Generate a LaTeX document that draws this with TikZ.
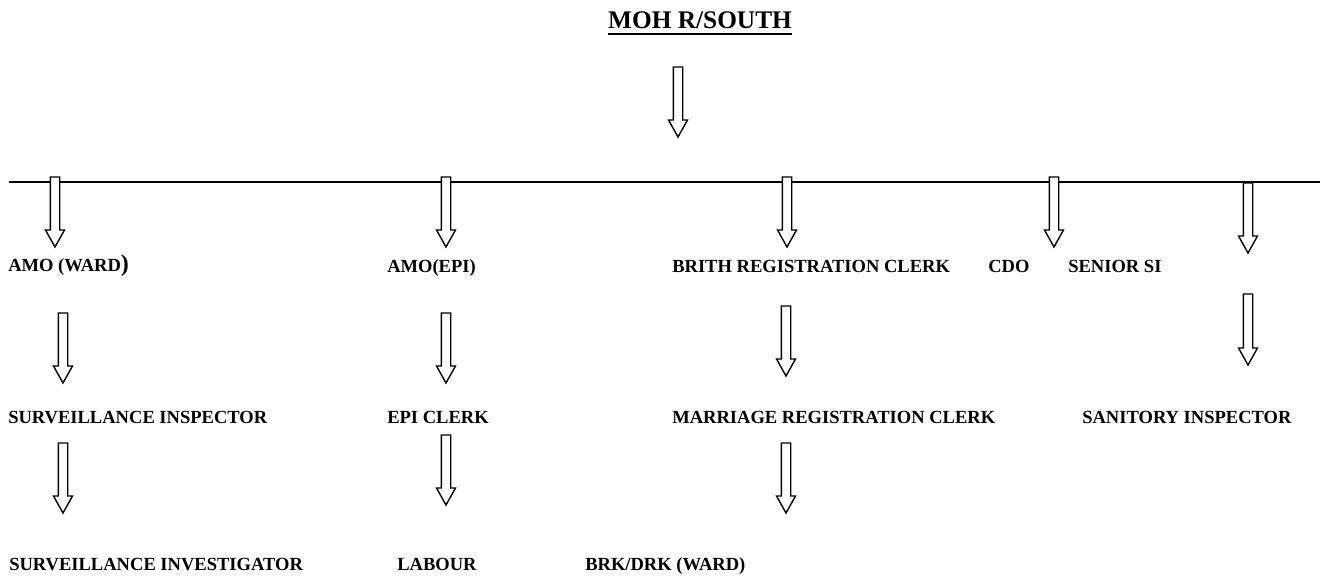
\documentclass[tikz,border=0pt]{standalone}
\usepackage{fontspec}
\setmainfont{Liberation Serif}
\usepackage{tikz}
\usetikzlibrary{calc}
\tikzset{
  org-title/.style={anchor=base, inner sep=0pt, font=\fontsize{19}{22}\selectfont\bfseries},
  org-label/.style={anchor=base west, inner sep=0pt, font=\fontsize{13.9}{16}\selectfont\bfseries},
  org-bus/.style={line width=1.5pt},
  org-arrow/.style={draw=black, fill=white, line width=1.05pt, line join=miter}
}
% hollow block arrow pointing down: shaft top (#1), tip (#2)
\newcommand{\blockdown}[2]{%
  \draw[org-arrow] ($(#1)+(-4.7,0)$) -- ($(#2)+(-4.7,-17)$) -- ($(#2)+(-9.5,-17)$)
    -- (#2) -- ($(#2)+(9.5,-17)$) -- ($(#2)+(4.7,-17)$) -- ($(#1)+(4.7,0)$) -- cycle;
}

\begin{document}
\begin{tikzpicture}[x=0.75pt, y=-0.75pt]
    \useasboundingbox (0,0) rectangle (1325,576);
    % Title
    \node[org-title] (moh) at (700,28) {MOH R/SOUTH};
    \draw[org-bus] ($(moh.base west)+(0,6)$) -- ($(moh.base east)+(0,6)$);
    \coordinate (top-t) at (678,67);
    \coordinate (top-h) at (678,137);
    \blockdown{top-t}{top-h}

    % Bus line
    \coordinate (busL) at (9,182);
    \coordinate (busR) at (1320,182);
    \draw[org-bus] (busL) -- (busR);

    % Arrows off the bus
    \coordinate (ward-t) at (55,177);   \coordinate (ward-h) at (55,247);
    \coordinate (epi-t) at (446,177);   \coordinate (epi-h) at (446,247);
    \coordinate (brith-t) at (787,177); \coordinate (brith-h) at (787,247);
    \coordinate (cdo-t) at (1054,177);  \coordinate (cdo-h) at (1054,247);
    \coordinate (si-t) at (1248,183);   \coordinate (si-h) at (1248,253);
    \blockdown{ward-t}{ward-h}
    \blockdown{epi-t}{epi-h}
    \blockdown{brith-t}{brith-h}
    \blockdown{cdo-t}{cdo-h}
    \blockdown{si-t}{si-h}

    % First row
    \node[org-label] (amoward) at (8,271) {AMO (WARD{\fontsize{18}{20}\selectfont)}};
    \node[org-label] (amoepi) at (387,272) {AMO(EPI)};
    \node[org-label] (brith) at (672,272) {BRITH REGISTRATION CLERK};
    \node[org-label] (cdo) at (988,272) {CDO};
    \node[org-label] (ssi) at (1068,272) {SENIOR SI};

    % Arrows to second row
    \coordinate (surv-t) at (63,313);    \coordinate (surv-h) at (63,383);
    \coordinate (clerk-t) at (446,313);  \coordinate (clerk-h) at (446,383);
    \coordinate (marr-t) at (786,306);   \coordinate (marr-h) at (786,376);
    \coordinate (san-t) at (1248,294);   \coordinate (san-h) at (1248,365);
    \blockdown{surv-t}{surv-h}
    \blockdown{clerk-t}{clerk-h}
    \blockdown{marr-t}{marr-h}
    \blockdown{san-t}{san-h}

    % Second row
    \node[org-label] (survins) at (8,423) {SURVEILLANCE INSPECTOR};
    \node[org-label] (epiclerk) at (387,423) {EPI CLERK};
    \node[org-label] (marriage) at (672,423) {MARRIAGE REGISTRATION CLERK};
    \node[org-label] (sanitory) at (1082,423) {SANITORY INSPECTOR};

    % Arrows to third row
    \coordinate (inv-t) at (63,443);     \coordinate (inv-h) at (63,513);
    \coordinate (lab-t) at (446,435);    \coordinate (lab-h) at (446,505);
    \coordinate (brk-t) at (786,443);    \coordinate (brk-h) at (786,513);
    \blockdown{inv-t}{inv-h}
    \blockdown{lab-t}{lab-h}
    \blockdown{brk-t}{brk-h}

    % Third row
    \node[org-label] (survinv) at (9,570) {SURVEILLANCE INVESTIGATOR};
    \node[org-label] (labour) at (397,570) {LABOUR};
    \node[org-label] (brkdrk) at (585,570) {BRK/DRK (WARD)};
\end{tikzpicture}
\end{document}
